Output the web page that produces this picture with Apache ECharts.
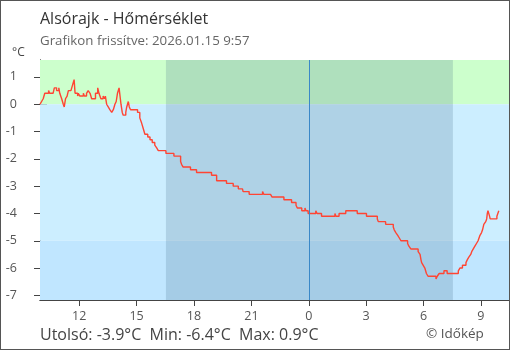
<!DOCTYPE html>
<html>
<head>
<meta charset="utf-8">
<script src="https://cdn.jsdelivr.net/npm/echarts@6/dist/echarts.min.js"></script>
<style>
  html, body { margin: 0; padding: 0; background: #fff; }
  #wrap { position: relative; width: 510px; height: 350px; }
  #chart { width: 510px; height: 350px; }
  #frame { position: absolute; left: 0; top: 0; width: 510px; height: 350px;
           box-sizing: border-box; border: 1px solid #555; pointer-events: none; }
</style>
</head>
<body>
<div id="wrap"><div id="chart"></div><div id="frame"></div></div>
<script>
// Temperature readings, Alsórajk, last 24 hours (time of reading, °C)
const times = [
  "09:57","10:02","10:07","10:12","10:24","10:27","10:38","10:42","10:49","10:56",
  "10:59","11:05","11:10","11:13","11:17","11:22","11:26","11:34","11:39","11:44",
  "11:47","11:55","11:57","12:02","12:13","12:16","12:23","12:28","12:34","12:39",
  "12:51","12:58","13:02","13:08","13:15","13:20","13:22","13:26","13:31","13:36",
  "13:42","13:47","13:52","13:56","14:00","14:05","14:08","14:11","14:15","14:18",
  "14:26","14:29","14:34","14:37","14:41","15:03","15:10","15:16","15:21","15:26",
  "15:35","15:42","15:49","15:57","16:03","16:08","16:32","16:57","17:18","17:21",
  "17:26","17:49","18:08","18:55","19:11","19:42","20:03","20:19","20:32","20:34",
  "20:53","21:35","21:39","22:00","22:05","22:42","23:06","23:20","23:24","23:38",
  "23:48","23:51","23:58","00:22","00:26","00:40","01:22","01:25","01:35","01:56",
  "02:32","03:01","03:35","03:38","04:01","04:25","04:28","04:33","04:39","04:44",
  "04:49","05:10","05:14","05:20","05:43","05:49","05:52","05:54","05:59","06:04",
  "06:09","06:14","06:39","06:43","06:49","07:04","07:14","07:49","07:54","08:02",
  "08:13","08:17","08:22","08:28","08:31","08:36","08:41","08:46","08:51","08:57",
  "09:02","09:05","09:09","09:15","09:18","09:20","09:22","09:27","09:29","09:50",
  "09:56"
];
const temps = [
   0.0, 0.1, 0.2, 0.4, 0.5, 0.4, 0.4, 0.6, 0.5, 0.6,
   0.4, 0.2, 0.0,-0.1, 0.2, 0.3, 0.5, 0.5, 0.7, 0.9,
   0.4, 0.3, 0.4, 0.3, 0.4, 0.3, 0.4, 0.5, 0.4, 0.2,
   0.4, 0.6, 0.4, 0.2, 0.3, 0.2, 0.3, 0.0,-0.1,-0.2,
  -0.3,-0.2, 0.0, 0.1, 0.4, 0.6, 0.3, 0.0,-0.3,-0.4,
  -0.3,-0.1, 0.1,-0.1,-0.2,-0.3,-0.5,-0.7,-0.9,-1.1,
  -1.2,-1.3,-1.4,-1.5,-1.6,-1.7,-1.8,-1.9,-2.1,-2.2,
  -2.3,-2.4,-2.5,-2.6,-2.8,-2.9,-3.0,-3.1,-3.1,-3.2,
  -3.3,-3.2,-3.3,-3.3,-3.4,-3.5,-3.6,-3.7,-3.8,-3.9,
  -3.8,-3.9,-4.0,-3.9,-4.0,-4.1,-4.0,-4.1,-4.0,-3.9,
  -4.0,-4.1,-4.2,-4.3,-4.4,-4.5,-4.6,-4.7,-4.8,-4.9,
  -5.0,-5.1,-5.2,-5.3,-5.4,-5.5,-5.7,-5.8,-5.9,-6.0,
  -6.2,-6.3,-6.4,-6.3,-6.2,-6.1,-6.2,-6.1,-6.0,-5.9,
  -5.8,-5.7,-5.6,-5.5,-5.4,-5.3,-5.2,-5.1,-5.0,-4.8,
  -4.7,-4.6,-4.4,-4.3,-4.2,-4.0,-3.9,-4.1,-4.2,-4.1,
  -3.9
];

// Axis layout values
const xStart = "09:57";          // left end of the time axis (previous day)
const xEnd = "10:28";            // right end of the time axis (today)
const hourTicks = [12, 15, 18, 21, 24, 27, 30, 33];
const tempTicks = [-7, -6, -5, -4, -3, -2, -1, 0, 1];
const tempMin = -7.17, tempMax = 1.62;

// Background bands (°C) and night (sunset → sunrise)
const frostLimit = 0;
const coldLimit = -5;
const night = ["16:32", "07:32"];
const midnight = 24;

const summary = { last: -3.9, min: -6.4, max: 0.9 };

function toHour(s) {
  const [h, m] = s.split(":").map(Number);
  return h + m / 60;
}
// Continuous hour values across midnight
const startH = toHour(xStart);
function onAxis(s) {
  const h = toHour(s);
  return h < startH ? h + 24 : h;
}
const endH = toHour(xEnd) + 24;
const points = times.map((t, i) => [onAxis(t), temps[i]]);

const fontFam = '"Open Sans", "Noto Sans", sans-serif';
const axisColor = '#444';
const labelColor = '#555';

const chart = echarts.init(document.getElementById('chart'), null, { renderer: 'canvas' });

const xBase = {
  type: 'value', min: startH, max: endH,
  position: 'bottom', splitLine: { show: false },
  axisLine: { show: true, onZero: false, lineStyle: { color: axisColor, width: 1 } }
};
const yBase = {
  type: 'value', min: tempMin, max: tempMax,
  position: 'left', splitLine: { show: false },
  axisLine: { show: true, onZero: false, lineStyle: { color: axisColor, width: 1 } }
};

chart.setOption({
  animation: false,
  textStyle: { fontFamily: fontFam },
  title: [
    { text: 'Alsórajk - Hőmérséklet', left: 35, top: 6,
      textStyle: { fontSize: 16, fontWeight: 'normal', color: '#333', fontFamily: fontFam } },
    { text: 'Grafikon frissítve: 2026.01.15 9:57', left: 35, top: 30,
      textStyle: { fontSize: 13.3, fontWeight: 'normal', color: '#666', fontFamily: fontFam } },
    { text: '°C', left: 7, top: 42,
      textStyle: { fontSize: 12, fontWeight: 'normal', color: '#444', fontFamily: fontFam } },
    { text: 'Utolsó: ' + summary.last.toFixed(1) + '°C  Min: ' + summary.min.toFixed(1) +
            '°C  Max: ' + summary.max.toFixed(1) + '°C',
      left: 35, top: 322,
      textStyle: { fontSize: 16, fontWeight: 'normal', color: '#444', fontFamily: fontFam } },
    { text: '© Időkép', left: 421, top: 322,
      textStyle: { fontSize: 13.5, fontWeight: 'normal', color: '#555', fontFamily: fontFam } }
  ],
  grid: { left: 40, right: 1, top: 60, bottom: 50, containLabel: false },
  xAxis: [
    Object.assign({}, xBase, {
      axisTick: { show: true, length: 6, customValues: hourTicks, lineStyle: { color: axisColor } },
      axisLabel: { show: true, customValues: hourTicks, margin: 10, fontSize: 12.5, color: labelColor,
                   fontFamily: fontFam, formatter: v => String(Math.round(v) % 24) }
    }),
    Object.assign({}, xBase, {
      axisTick: { show: true, inside: true, length: 6, customValues: hourTicks, lineStyle: { color: axisColor } },
      axisLabel: { show: false }
    })
  ],
  yAxis: [
    Object.assign({}, yBase, {
      axisTick: { show: true, length: 6, customValues: tempTicks, lineStyle: { color: axisColor } },
      axisLabel: { show: true, customValues: tempTicks, margin: 23, align: 'right', fontSize: 12.5,
                   color: labelColor, fontFamily: fontFam },
    }),
    Object.assign({}, yBase, {
      axisTick: { show: true, inside: true, length: 7, customValues: tempTicks, lineStyle: { color: axisColor } },
      axisLabel: { show: false }
    })
  ],
  series: [
    {
      // temperature bands
      type: 'line', data: [], z: 0, silent: true,
      markArea: {
        silent: true,
        data: [
          [{ yAxis: frostLimit, itemStyle: { color: '#ccffcc' } }, { yAxis: tempMax }],
          [{ yAxis: coldLimit, itemStyle: { color: '#cceeff' } }, { yAxis: frostLimit }],
          [{ yAxis: tempMin, itemStyle: { color: '#c0e6ff' } }, { yAxis: coldLimit }]
        ]
      }
    },
    {
      // night shading
      type: 'line', data: [], z: 1, silent: true,
      markArea: {
        silent: true,
        itemStyle: { color: 'rgba(60,100,130,0.2)' },
        data: [[{ xAxis: onAxis(night[0]) }, { xAxis: onAxis(night[1]) }]]
      }
    },
    {
      name: 'Hőmérséklet', type: 'line', step: 'end', z: 3,
      data: points, showSymbol: false, symbol: 'none',
      lineStyle: { color: '#ff4433', width: 1.4 },
      markLine: {
        silent: true, symbol: ['none', 'none'], label: { show: false },
        lineStyle: { color: '#3a88c8', width: 1, type: 'solid' },
        data: [{ xAxis: midnight }]
      }
    }
  ]
});
</script>
</body>
</html>
